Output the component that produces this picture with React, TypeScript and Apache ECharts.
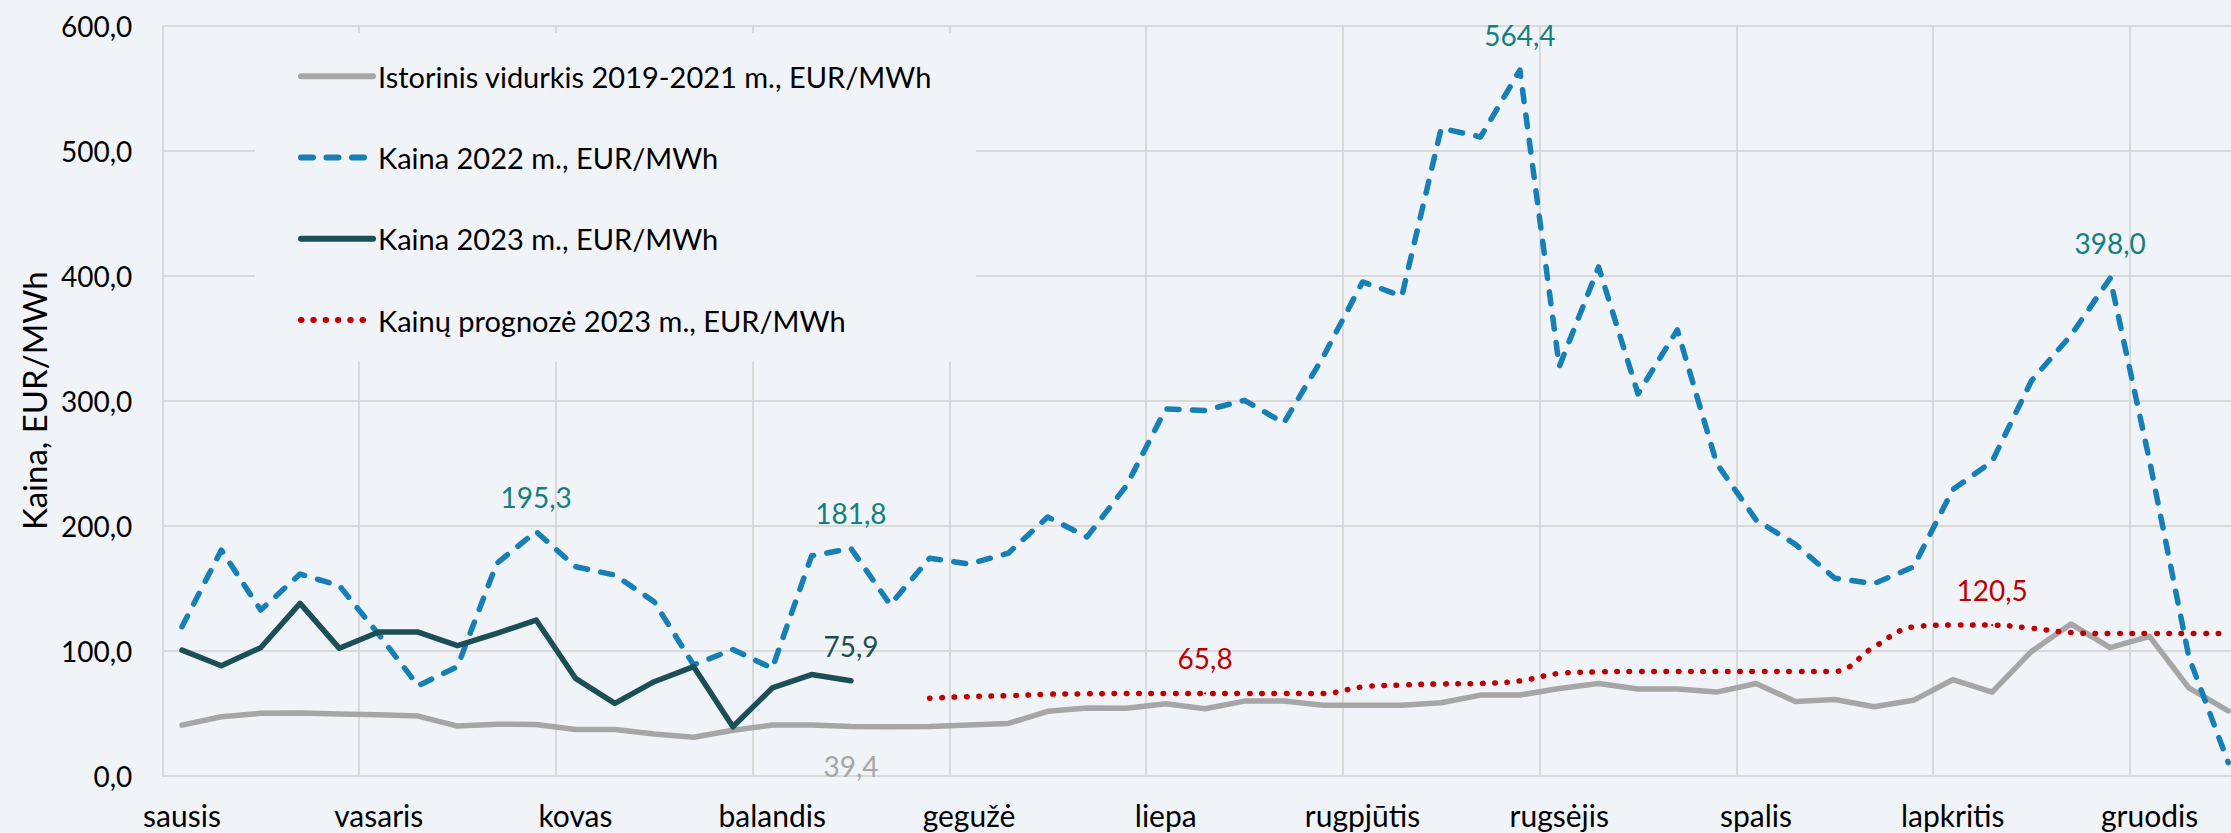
import React, { useEffect, useRef } from "react";
import * as echarts from "echarts";

// Month labels (one every 5 weekly categories)
const months = ["sausis", "vasaris", "kovas", "balandis", "gegužė", "liepa", "rugpjūtis", "rugsėjis", "spalis", "lapkritis", "gruodis"];
const WEEKS = 53;
const LABEL_STEP = 5;

const historical = [
  40.5, 47.2, 49.9, 50.1, 49.3, 48.8, 47.7, 39.7, 41.1, 41.0,
  37.0, 37.0, 33.3, 30.8, 36.3, 40.5, 40.5, 39.4, 39.1, 39.4,
  40.5, 41.8, 51.5, 54.2, 54.0, 57.6, 53.6, 59.7, 59.7, 56.4,
  56.4, 56.4, 58.4, 64.5, 64.5, 69.7, 73.8, 69.3, 69.3, 66.9,
  73.8, 59.4, 60.9, 55.2, 60.3, 76.8, 66.9, 99.4, 121.4, 102.4,
  111.5, 70.2, 51.9,
];

const price2022 = [
  119.2, 180.5, 132.5, 161.3, 152.0, 113.0, 72.0, 87.2, 169.9, 195.3,
  167.2, 160.5, 139.2, 88.6, 101.0, 85.9, 175.9, 181.8, 136.8, 174.0,
  169.3, 178.0, 207.0, 191.0, 232.0, 293.4, 292.2, 300.3, 282.1, 335.0,
  395.0, 383.7, 518.0, 511.0, 564.4, 327.3, 407.0, 305.5, 356.7, 249.8,
  204.7, 185.1, 158.0, 153.6, 167.0, 228.8, 251.4, 316.0, 352.2, 398.0,
  252.0, 95.0, 10.5,
];

const price2023 = [
  100.5, 88.0, 102.4, 137.9, 101.9, 114.9, 114.9, 104.0, 113.9, 124.5,
  77.9, 57.9, 75.2, 87.3, 39.1, 70.2, 80.9, 75.9,
];

const FORECAST_START = 19;
const forecast2023 = [
  62.0, 63.3, 64.0, 65.2, 65.5, 65.8, 65.8, 65.8, 65.8, 65.8,
  65.8, 71.0, 72.6, 73.4, 73.8, 75.8, 81.8, 83.0, 83.4, 83.4,
  83.4, 83.4, 83.4, 83.4, 103.0, 119.0, 120.5, 120.5, 118.0, 114.5,
  113.7, 113.7, 113.7, 113.7,
];

// Indices of the points that carry a value label
const labelsHistorical = [17];
const labels2022 = [9, 17, 34, 49];
const labels2023 = [17];
const labelsForecast = [26, 46];

const seriesNames = [
  "Istorinis vidurkis 2019-2021 m., EUR/MWh",
  "Kaina 2022 m., EUR/MWh",
  "Kaina 2023 m., EUR/MWh",
  "Kainų prognozė 2023 m., EUR/MWh",
];

const BG = "#f0f4f8";
const GRID = "#d9d9d9";
const FONT = "Lato";
const LW = 5.5;

const fmt = (v: number) => v.toFixed(1).replace(".", ",");

function withLabels(values: (number | null)[], idx: number[], label: any) {
  return values.map((v, i) =>
    idx.includes(i) && v != null
      ? { value: v, symbol: "circle", symbolSize: 2, label: { show: true, ...label } }
      : v
  );
}

export default function App() {
  const ref = useRef<HTMLDivElement>(null);

  useEffect(() => {
    if (!ref.current) return;
    const chart = echarts.init(ref.current, undefined, { renderer: "svg" });

    const categories = Array.from({ length: WEEKS }, (_, i) =>
      i % LABEL_STEP === 0 ? months[i / LABEL_STEP] ?? "" : ""
    );
    const forecastFull: (number | null)[] = Array(FORECAST_START).fill(null).concat(forecast2023);

    const labelBase = {
      fontFamily: FONT,
      fontSize: 28,
      formatter: (p: any) => fmt(p.value),
    };

    const common = {
      type: "line",
      symbol: "none",
      showAllSymbol: true,
      silent: true,
    };

    chart.setOption({
      animation: false,
      backgroundColor: BG,
      textStyle: { fontFamily: FONT },
      grid: { left: 162.3, top: 25.7, height: 750, width: 2085.6, containLabel: false },
      legend: {
        orient: "vertical",
        left: 255,
        top: 33,
        padding: [28.7, 44, 27, 43],
        itemWidth: 72,
        itemHeight: 20,
        itemGap: 52.3,
        backgroundColor: BG,
        data: seriesNames,
        textStyle: { fontFamily: FONT, fontSize: 29, color: "#000" },
        itemStyle: { opacity: 0 },
        lineStyle: { width: 6 },
        selectedMode: false,
      },
      xAxis: {
        type: "category",
        data: categories,
        boundaryGap: true,
        axisLine: { show: true, lineStyle: { color: GRID, width: 2 } },
        axisTick: { show: false },
        axisLabel: {
          interval: LABEL_STEP - 1,
          fontFamily: FONT,
          fontSize: 30,
          color: "#000",
          margin: 24,
        },
        splitLine: { show: true, interval: LABEL_STEP - 1, lineStyle: { color: GRID, width: 2 } },
      },
      yAxis: {
        type: "value",
        min: 0,
        max: 600,
        interval: 100,
        name: "Kaina, EUR/MWh",
        nameLocation: "middle",
        nameRotate: 90,
        nameGap: 112,
        nameTextStyle: { fontFamily: FONT, fontSize: 33, color: "#000" },
        axisLine: { show: false },
        axisTick: { show: false },
        axisLabel: { fontFamily: FONT, fontSize: 28, color: "#000", margin: 30, formatter: (v: number) => fmt(v) },
        splitLine: { show: true, lineStyle: { color: GRID, width: 2 } },
      },
      series: [
        {
          ...common,
          name: seriesNames[0],
          lineStyle: { color: "#a6a6a6", width: LW, cap: "round", join: "round" },
          itemStyle: { color: "#a6a6a6" },
          data: withLabels(historical, labelsHistorical, { ...labelBase, position: "bottom", distance: 25, color: "#a6a6a6" }),
          z: 2,
        },
        {
          ...common,
          name: seriesNames[1],
          lineStyle: { color: "#167fb5", width: LW, type: [12, 13.5], cap: "round", join: "round" },
          itemStyle: { color: "#167fb5" },
          data: withLabels(price2022, labels2022, { ...labelBase, position: "top", distance: 20, color: "#13807f" }),
          z: 3,
        },
        {
          ...common,
          name: seriesNames[2],
          lineStyle: { color: "#1b4f55", width: LW, cap: "round", join: "round" },
          itemStyle: { color: "#1b4f55" },
          data: withLabels(price2023, labels2023, { ...labelBase, position: "top", distance: 20, color: "#1f4e4f" }),
          z: 4,
        },
        {
          ...common,
          name: seriesNames[3],
          smooth: 0.4,
          connectNulls: false,
          lineStyle: { color: "#c00000", width: LW, type: [0.5, 11.8], cap: "round" },
          itemStyle: { color: "#c00000" },
          data: withLabels(forecastFull, labelsForecast, { ...labelBase, position: "top", distance: 20, color: "#c00000" }),
          z: 5,
        },
      ],
    });

    return () => chart.dispose();
  }, []);

  return (
    <div
      style={{ position: "absolute", left: 0, top: 0, width: 2231, height: 833, overflow: "hidden", background: BG }}
    >
      <div ref={ref} style={{ width: 2260, height: 833 }} />
    </div>
  );
}
